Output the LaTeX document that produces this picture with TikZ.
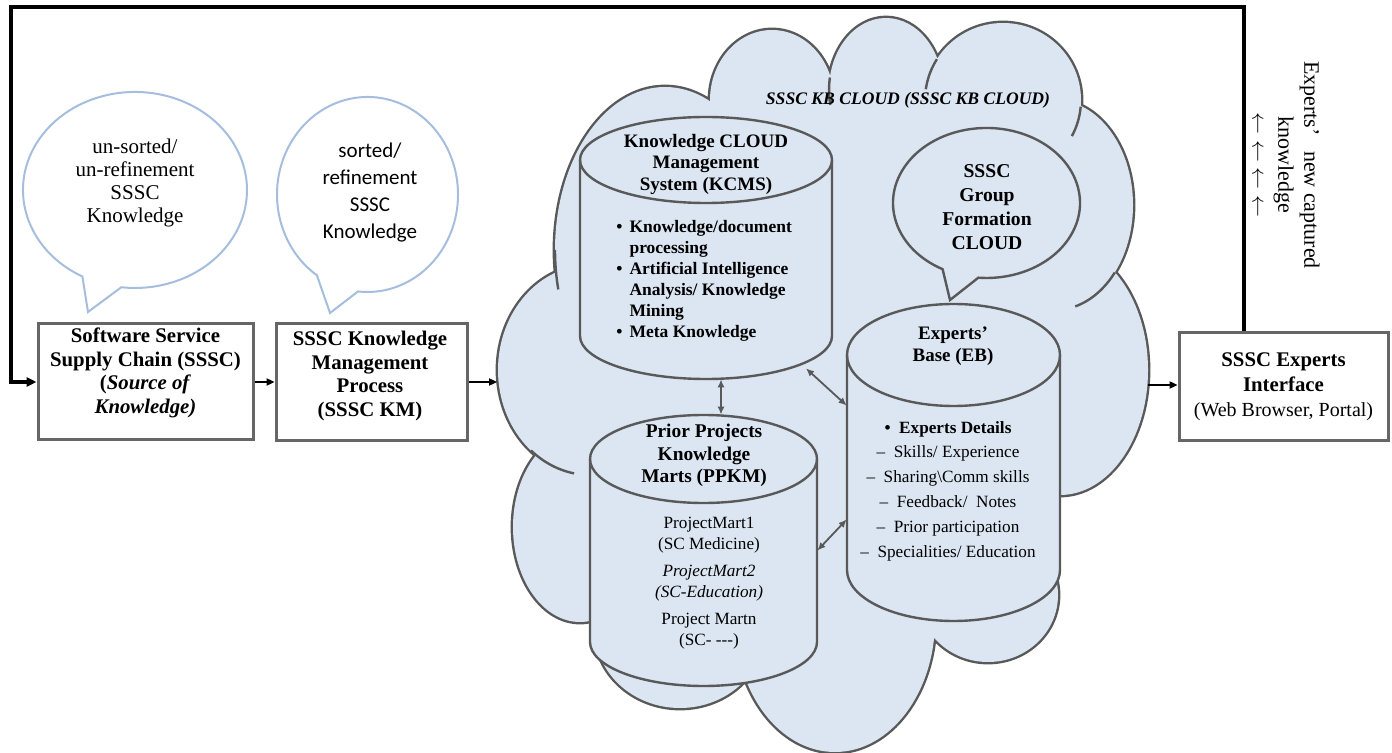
\documentclass[tikz,border=0pt]{standalone}
\usepackage{fontspec}
\setmainfont{Liberation Serif}
\newfontfamily\calib{Carlito}
\usetikzlibrary{arrows.meta,calc}
\definecolor{cloudfill}{HTML}{DCE6F2}
\definecolor{outl}{HTML}{595959}
\definecolor{boxgray}{HTML}{666666}
\definecolor{bubblue}{HTML}{A6BEDE}
\newcommand\mycyl[5]{%
  \filldraw[cyl] ({#1-#2},#3) -- ({#1-#2},#4) arc[start angle=180,end angle=0,x radius=#2,y radius=#5]
     -- ({#1+#2},#3) arc[start angle=0,end angle=-180,x radius=#2,y radius=#5] -- cycle;
  \draw[cyl,fill=none] ({#1-#2},#3) arc[start angle=180,end angle=0,x radius=#2,y radius=#5];}
\begin{document}
\begin{tikzpicture}[x=0.5pt,y=-0.5pt,
  boxnode/.style={draw=boxgray,line width=1.5pt,inner sep=0pt},
  boxtxt/.style={align=center,font=\fontsize{10.4pt}{11.8pt}\selectfont\bfseries,inner sep=0pt},
  arr/.style={line width=0.8pt,-{Triangle[length=4pt,width=3.6pt]}},
  dbl/.style={draw=outl,line width=0.9pt,{Latex[length=4pt,width=3.6pt]}-{Latex[length=4pt,width=3.6pt]}},
  cyl/.style={draw=outl,line width=1.2pt,fill=cloudfill},
  bub/.style={draw=bubblue,line width=1pt},
  fb/.style={line width=2.2pt,line join=miter,-{Triangle[length=5pt,width=4.5pt]}},
  innermark/.style={draw=outl,line width=1.2pt}
]
\fill[white] (0,0) rectangle (1392,753);
\useasboundingbox (0,0) rectangle (1392,753);

% speech bubbles on the left
\draw[bub] (88,312) -- (82.4,276.5) arc[start angle=118,end angle=457,x radius=112,y radius=98] -- cycle;
\node[font=\fontsize{10.5pt}{11.5pt}\selectfont,align=center] (bubA) at (135,182.5) {un-sorted/\\un-refinement\\SSSC\\Knowledge};
\draw[bub] (330,313) -- (316.9,275.3) arc[start angle=124,end angle=456,x radius=90.5,y radius=97.5] -- cycle;
\node[font=\calib\fontsize{10.5pt}{13.5pt}\selectfont,align=center] (bubB) at (370,192.5) {sorted/\\refinement\\SSSC\\Knowledge};

% cloud: stroke pass
\draw[draw=outl,line width=2.4pt]
  (590,370) ellipse [x radius=92,y radius=105]
  (580,527) ellipse [x radius=67,y radius=95]
  (680,630) ellipse [x radius=85,y radius=78]
  (835,620) ellipse [x radius=100,y radius=132]
  (988,595) ellipse [x radius=70,y radius=67]
  (1060,370) ellipse [x radius=88,y radius=125]
  (1055,205) ellipse [x radius=78,y radius=105]
  (1003,100) ellipse [x radius=78,y radius=77]
  (886,90) ellipse [x radius=57,y radius=72]
  (772,100) ellipse [x radius=62,y radius=70]
  (665,250) ellipse [x radius=110,y radius=163];
% cloud: fill pass
\fill[cloudfill]
  (590,370) ellipse [x radius=92,y radius=105]
  (580,527) ellipse [x radius=67,y radius=95]
  (680,630) ellipse [x radius=85,y radius=78]
  (835,620) ellipse [x radius=100,y radius=132]
  (988,595) ellipse [x radius=70,y radius=67]
  (1060,370) ellipse [x radius=88,y radius=125]
  (1055,205) ellipse [x radius=78,y radius=105]
  (1003,100) ellipse [x radius=78,y radius=77]
  (886,90) ellipse [x radius=57,y radius=72]
  (772,100) ellipse [x radius=62,y radius=70]
  (665,250) ellipse [x radius=110,y radius=163];
\fill[cloudfill] (570,280) -- (600,150) -- (712,118) -- (832,95) -- (938,82) -- (1070,130)
  -- (1100,300) -- (1055,480) -- (1045,590) -- (930,630) -- (748,675) -- (615,655)
  -- (590,610) -- (545,452) -- cycle;
% inner marks of the cloud
\draw[innermark] (555,250) arc[start angle=180,end angle=166,x radius=110,y radius=163];
\draw[innermark] (530.9,450.4) arc[start angle=130,end angle=100,x radius=92,y radius=105];
\draw[innermark] (829.9,77.5) arc[start angle=190,end angle=168,x radius=57,y radius=72];
\draw[innermark] (936.9,59.2) arc[start angle=212,end angle=188,x radius=78,y radius=77];
\draw[innermark] (1080.7,106.7) arc[start angle=5,end angle=28,x radius=78,y radius=77];
\draw[innermark] (1114.8,272.5) arc[start angle=40,end angle=75,x radius=78,y radius=105];

\node[font=\fontsize{8.8pt}{10pt}\selectfont\bfseries\itshape] (kbtitle) at (908,100) {SSSC KB CLOUD (SSSC KB CLOUD)};

% cylinders
\mycyl{706}{126}{160}{336}{43}
\mycyl{703.5}{113.5}{459}{642}{44}
\mycyl{953.5}{106.5}{355}{570}{51}
\node[minimum width=126pt,minimum height=131pt,inner sep=0pt] (kcms) at (706,248) {};
\node[minimum width=113.5pt,minimum height=135.5pt,inner sep=0pt] (ppkm) at (703.5,550.5) {};
\node[minimum width=106.5pt,minimum height=158.5pt,inner sep=0pt] (eb) at (953.5,462.5) {};

% group formation bubble
\filldraw[cyl] (950,300) -- (942.6,269.2) arc[start angle=118,end angle=455,x radius=93.5,y radius=75] -- cycle;
\node[align=center,font=\fontsize{9.8pt}{12pt}\selectfont\bfseries] (grp) at (987,207.5) {SSSC\\Group\\Formation\\CLOUD};

% cylinder texts
\node[align=center,font=\fontsize{9.5pt}{10.75pt}\selectfont\bfseries] (kcmsh) at (706,164) {Knowledge CLOUD\\Management\\System (KCMS)};
\node[anchor=north west,inner sep=0pt,font=\fontsize{8.75pt}{10.5pt}\selectfont\bfseries] (kcmsl) at (616,217)
 {\begin{tabular}{@{}l@{\hspace{3.5pt}}l@{}}\textbullet & Knowledge/document\\ & processing\\ \textbullet & Artificial Intelligence\\ & Analysis/ Knowledge\\ & Mining\\ \textbullet & Meta Knowledge\end{tabular}};
\node[align=center,font=\fontsize{9.5pt}{11pt}\selectfont\bfseries] (ebh) at (953,346) {Experts’\\Base (EB)};
\node[align=center,font=\fontsize{8.6pt}{12.4pt}\selectfont] (ebl) at (948,491)
 {\textbf{\textbullet\enspace Experts Details}\\–\enspace Skills/ Experience\\–\enspace Sharing\textbackslash Comm skills\\–\enspace Feedback/\enspace Notes\\–\enspace Prior participation\\–\enspace Specialities/ Education};
\node[align=center,font=\fontsize{9.7pt}{11.25pt}\selectfont\bfseries] (ppkmh) at (704,455.5) {Prior Projects\\Knowledge\\Marts (PPKM)};
\node[align=center,font=\fontsize{8.6pt}{10.5pt}\selectfont] (ppkml) at (709,583.5)
 {ProjectMart1\\(SC Medicine)\\[3pt]\textit{ProjectMart2}\\\textit{(SC-Education)}\\[3pt]Project Martn\\(SC- -{}-{}-)};

% arrows inside the cloud
\draw[dbl] ([xshift=7.5pt]kcms.south) -- ([xshift=7.5pt]kcms.south |- ppkm.north);
\draw[dbl] ($(kcms.south)+(100,-11)$) -- ($(eb.west)+(0,-57)$);
\draw[dbl] (ppkm.east) -- ($(eb.west)+(0,57)$);

% boxes
\node[boxnode,minimum width=107.5pt,minimum height=58pt] (box1) at (145.5,382) {};
\node[boxtxt] (box1t) at (145.5,373) {Software Service\\Supply Chain (SSSC)\\(\textit{Source of}\\\textit{Knowledge)}};
\node[boxnode,minimum width=95.5pt,minimum height=58.5pt] (box2) at (371.5,382) {};
\node[boxtxt] (box2t) at (370,376) {SSSC Knowledge\\Management\\Process\\(SSSC KM)};
\node[boxnode,minimum width=104.5pt,minimum height=54pt,align=center,font=\fontsize{10pt}{12.5pt}\selectfont] (box3) at (1283.5,387)
 {{\fontsize{10.4pt}{12.5pt}\selectfont\bfseries SSSC Experts}\\{\fontsize{10.4pt}{12.5pt}\selectfont\bfseries Interface}\\(Web Browser, Portal)};

\coordinate (cloudL) at (497,382);
\coordinate (cloudR) at (1148,385);
\draw[arr] (box1.east) -- (box2.west);
\draw[arr] (box2.east) -- (cloudL);
\draw[arr] (cloudR) -- (cloudR -| box3.west);

% feedback loop
\coordinate (fbA) at (1244,7);
\coordinate (fbB) at (11,7);
\coordinate (fbC) at (11,382);
\draw[fb] (box3.north -| fbA) -- (fbA) -- (fbB) -- (fbC) -- (box1.west);

\node[rotate=-90,align=center,font=\fontsize{11pt}{13pt}\selectfont] (newk) at (1286,165)
 {Experts’\hspace{5pt} new captured\\knowledge\\$\leftarrow$\hspace{3pt}$\leftarrow$\hspace{3pt}$\leftarrow$\hspace{3pt}$\leftarrow$};
\end{tikzpicture}
\end{document}
